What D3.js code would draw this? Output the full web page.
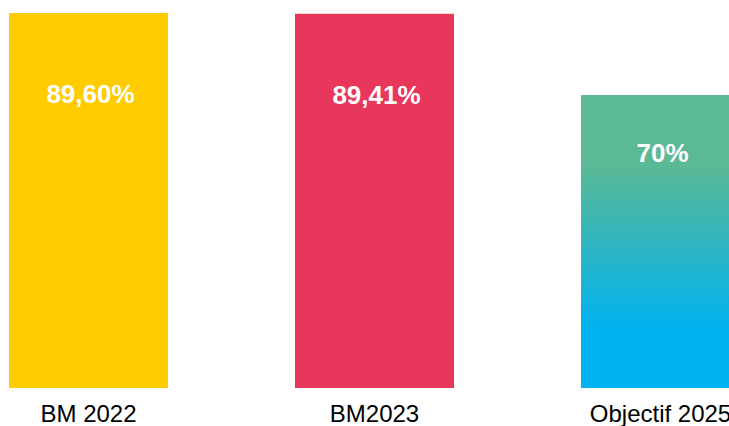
<!DOCTYPE html>
<html>
<head>
<meta charset="utf-8">
<script src="https://cdn.jsdelivr.net/npm/d3@7"></script>
<style>
  html, body { margin: 0; padding: 0; background: #fff; overflow: hidden; }
  svg { display: block; }
</style>
</head>
<body>
<svg id="chart" width="729" height="426"></svg>
<script>
const categories = ["BM 2022", "BM2023", "Objectif 2025"];
const values = [89.60, 89.41, 70];
const valueLabels = ["89,60%", "89,41%", "70%"];

const W = 729, H = 426;
const svg = d3.select("#chart");

const x = d3.scaleBand()
  .domain(categories)
  .range([9, 740])
  .paddingInner(0.444)
  .paddingOuter(0);

const y = d3.scaleLinear()
  .domain([0, 89.6])
  .range([388, 13]);

const defs = svg.append("defs");
const grad = defs.append("linearGradient")
  .attr("id", "objGrad")
  .attr("x1", 0).attr("y1", 0).attr("x2", 0).attr("y2", 1);
grad.append("stop").attr("offset", "0.24").attr("stop-color", "#5bb996");
grad.append("stop").attr("offset", "0.80").attr("stop-color", "#00b2ef");

const fills = ["#ffcc00", "#e9365b", "url(#objGrad)"];

svg.selectAll("rect.bar")
  .data(values)
  .join("rect")
  .attr("class", "bar")
  .attr("x", (d, i) => x(categories[i]))
  .attr("y", d => y(d))
  .attr("width", x.bandwidth())
  .attr("height", d => y(0) - y(d))
  .attr("fill", (d, i) => fills[i]);

svg.selectAll("text.val")
  .data(values)
  .join("text")
  .attr("class", "val")
  .attr("x", (d, i) => x(categories[i]) + x.bandwidth() / 2 + 2)
  .attr("y", d => y(d) + (y(0) - y(d)) * 0.28 - 15)
  .attr("text-anchor", "middle")
  .attr("fill", "#ffffff")
  .attr("font-family", "Liberation Sans, Arial, sans-serif")
  .attr("font-weight", "bold")
  .attr("font-size", 26)
  .text((d, i) => valueLabels[i]);

const xAxis = d3.axisBottom(x).tickSize(0).tickPadding(0);
const ax = svg.append("g")
  .attr("transform", "translate(0,404)")
  .call(xAxis);
ax.select(".domain").remove();
ax.selectAll("text")
  .attr("dy", "0.75em")
  .attr("y", 0)
  .attr("fill", "#000")
  .attr("font-family", "Liberation Sans, Arial, sans-serif")
  .attr("font-size", 24);
</script>
</body>
</html>
